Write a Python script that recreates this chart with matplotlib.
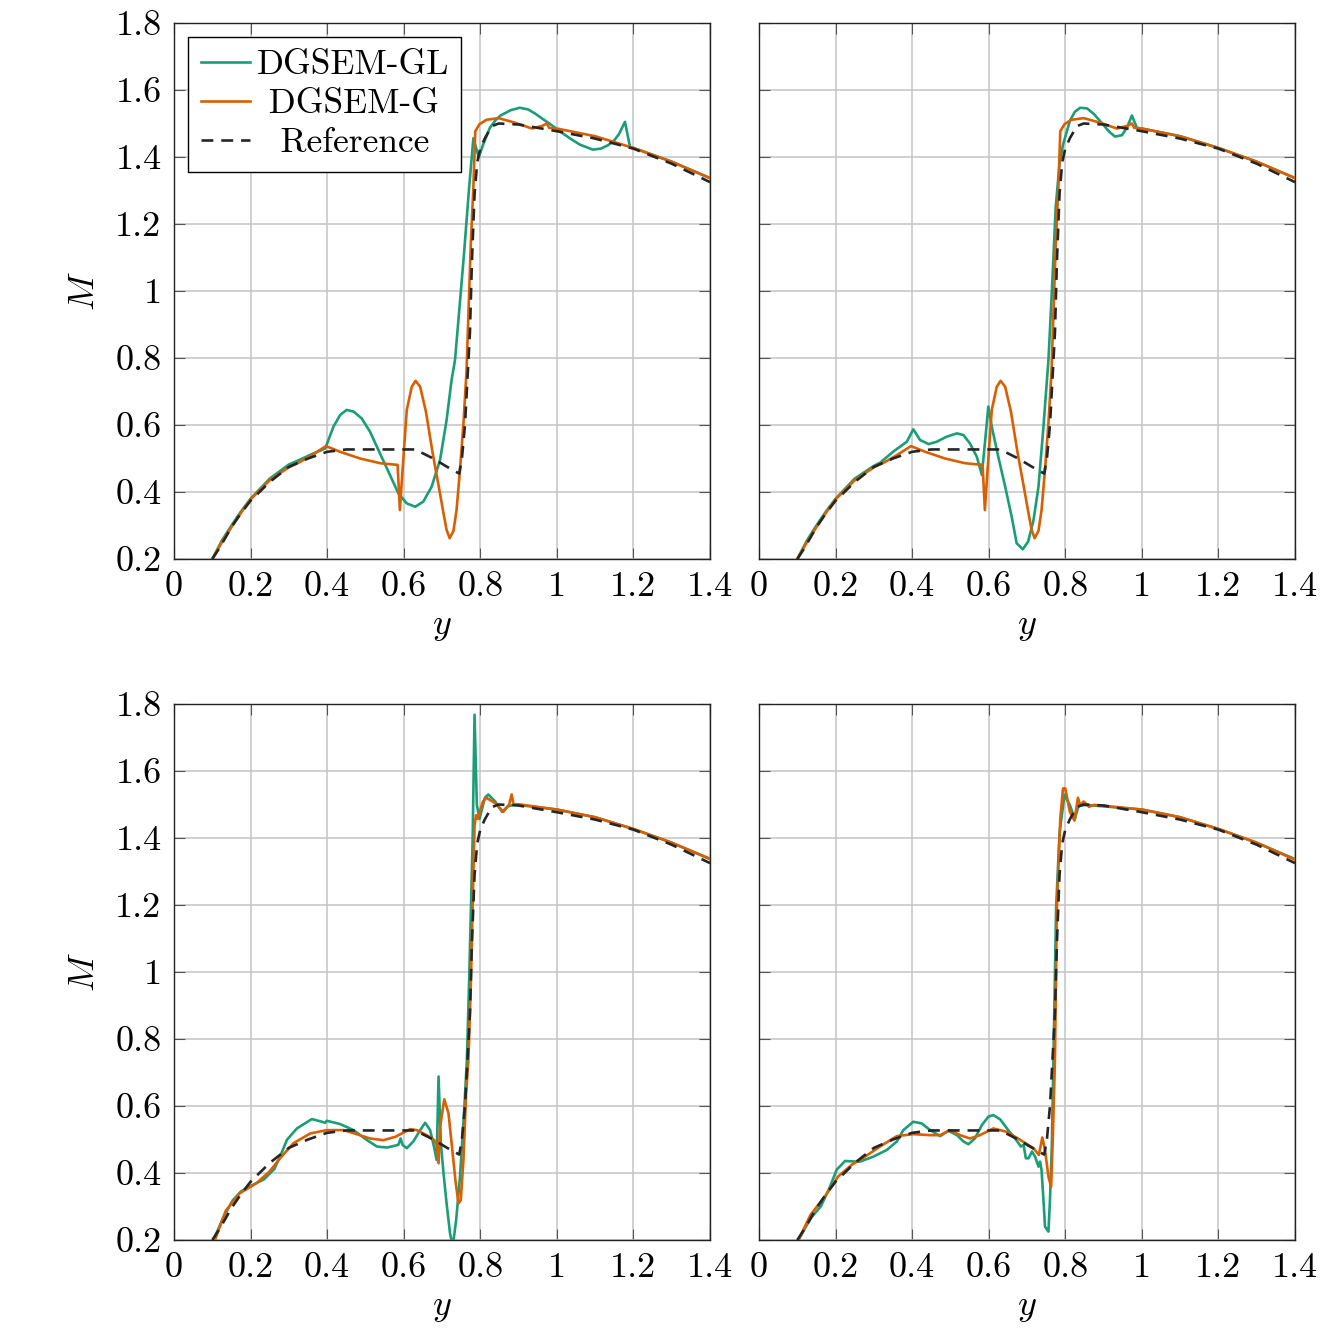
import numpy as np
import matplotlib
matplotlib.use("Agg")
import matplotlib.pyplot as plt
from matplotlib.ticker import FuncFormatter, MultipleLocator

plt.rcParams['font.family'] = 'cmr10'
plt.rcParams['mathtext.fontset'] = 'cm'
plt.rcParams['axes.formatter.use_mathtext'] = True
plt.rcParams['font.size'] = 26

GREEN = '#1b9e77'
ORANGE = '#d95f02'
REFC = '#262626'

# reference solution (same in every panel)
ref_y = [0.1, 0.12, 0.15, 0.175, 0.2, 0.25, 0.3, 0.35, 0.4, 0.45, 0.63, 0.677, 0.712,
         0.745, 0.752, 0.76, 0.769, 0.773, 0.778, 0.785, 0.792, 0.8, 0.812, 0.83, 0.848,
         0.9, 0.95, 1.0, 1.1, 1.2, 1.3, 1.4]
ref_M = [0.2, 0.235, 0.295, 0.337, 0.374, 0.43, 0.475, 0.5, 0.52, 0.527, 0.527, 0.5, 0.476,
         0.455, 0.5, 0.6, 0.79, 0.877, 1.083, 1.29, 1.384, 1.425, 1.456, 1.492, 1.5,
         1.497, 1.487, 1.477, 1.455, 1.425, 1.38, 1.325]

# top row, DGSEM-G (same in both top panels)
g_top_y = [0.1, 0.125, 0.15, 0.175, 0.2, 0.25, 0.3, 0.33, 0.36, 0.397, 0.434, 0.486,
           0.538, 0.584, 0.59, 0.597, 0.608, 0.621, 0.631, 0.643, 0.658, 0.675, 0.69,
           0.704, 0.712, 0.72, 0.73, 0.738, 0.747, 0.756, 0.764, 0.775, 0.782, 0.787,
           0.798, 0.816, 0.848, 0.889, 0.935, 0.962, 0.974, 0.98, 1.0, 1.1, 1.2, 1.3, 1.4]
g_top_M = [0.2, 0.25, 0.295, 0.338, 0.378, 0.435, 0.474, 0.49, 0.51, 0.537, 0.52, 0.5,
           0.486, 0.481, 0.346, 0.466, 0.645, 0.714, 0.732, 0.714, 0.64, 0.52, 0.426,
           0.336, 0.287, 0.262, 0.284, 0.346, 0.466, 0.605, 0.76, 1.135, 1.311, 1.477,
           1.498, 1.511, 1.516, 1.503, 1.485, 1.493, 1.5, 1.487, 1.485, 1.462, 1.427, 1.386, 1.337]

# top left, DGSEM-GL
gl1_y = [0.1, 0.125, 0.15, 0.175, 0.2, 0.25, 0.3, 0.33, 0.36, 0.395, 0.4165, 0.434, 0.451,
         0.469, 0.49, 0.512, 0.538, 0.564, 0.586, 0.608, 0.63, 0.651, 0.673, 0.695, 0.712,
         0.725, 0.734, 0.744, 0.757, 0.771, 0.782, 0.796, 0.807, 0.825, 0.84, 0.853, 0.88,
         0.903, 0.925, 0.944, 0.965, 0.989, 1.01, 1.035, 1.06, 1.094, 1.115, 1.135, 1.15,
         1.162, 1.178, 1.191, 1.2, 1.3, 1.4]
gl1_M = [0.2, 0.255, 0.3, 0.342, 0.38, 0.44, 0.482, 0.497, 0.513, 0.53, 0.595, 0.63, 0.645,
         0.64, 0.62, 0.58, 0.515, 0.451, 0.396, 0.366, 0.356, 0.371, 0.416, 0.496, 0.615,
         0.734, 0.794, 0.928, 1.104, 1.311, 1.456, 1.399, 1.436, 1.487, 1.51, 1.524, 1.54,
         1.547, 1.542, 1.529, 1.512, 1.493, 1.475, 1.455, 1.437, 1.422, 1.425, 1.436, 1.45,
         1.468, 1.505, 1.43, 1.427, 1.386, 1.337]

# top right, DGSEM-GL
gl2_y = [0.1, 0.125, 0.15, 0.175, 0.2, 0.25, 0.3, 0.317, 0.35, 0.386, 0.403, 0.421, 0.443,
         0.464, 0.49, 0.517, 0.534, 0.551, 0.569, 0.582, 0.59, 0.599, 0.608, 0.625, 0.643,
         0.66, 0.673, 0.689, 0.703, 0.717, 0.73, 0.743, 0.756, 0.765, 0.775, 0.785, 0.794,
         0.812, 0.825, 0.839, 0.857, 0.875, 0.898, 0.915, 0.93, 0.948, 0.962, 0.974, 0.987,
         1.0, 1.1, 1.2, 1.3, 1.4]
gl2_M = [0.2, 0.255, 0.3, 0.342, 0.38, 0.44, 0.478, 0.488, 0.52, 0.55, 0.587, 0.555, 0.543,
         0.55, 0.565, 0.575, 0.57, 0.545, 0.505, 0.451, 0.545, 0.655, 0.595, 0.505, 0.416,
         0.326, 0.247, 0.229, 0.252, 0.316, 0.416, 0.595, 0.794, 1.0, 1.25, 1.38, 1.436,
         1.508, 1.535, 1.547, 1.545, 1.528, 1.498, 1.475, 1.461, 1.465, 1.49, 1.524, 1.487,
         1.485, 1.462, 1.427, 1.386, 1.337]

# bottom left
gl3_y = [0.103, 0.128, 0.153, 0.175, 0.198, 0.235, 0.262, 0.277, 0.295, 0.321, 0.36, 0.386,
         0.395, 0.399, 0.434, 0.469, 0.503, 0.53, 0.556, 0.586, 0.592, 0.597, 0.608, 0.625,
         0.643, 0.656, 0.669, 0.679, 0.686, 0.691, 0.697, 0.704, 0.712, 0.721, 0.728, 0.737,
         0.747, 0.758, 0.765, 0.771, 0.78, 0.785, 0.791, 0.798, 0.812, 0.821, 0.839, 0.857,
         0.871, 0.889, 1.0, 1.1, 1.2, 1.3, 1.4]
gl3_M = [0.2, 0.265, 0.318, 0.345, 0.36, 0.381, 0.412, 0.449, 0.499, 0.533, 0.561, 0.553,
         0.55, 0.556, 0.546, 0.528, 0.499, 0.479, 0.476, 0.484, 0.503, 0.484, 0.474, 0.494,
         0.528, 0.55, 0.528, 0.479, 0.439, 0.688, 0.489, 0.399, 0.309, 0.22, 0.18, 0.26,
         0.389, 0.588, 0.737, 0.98, 1.393, 1.768, 1.499, 1.457, 1.52, 1.53, 1.509, 1.478,
         1.494, 1.5, 1.485, 1.462, 1.427, 1.386, 1.337]
g3_y = [0.107, 0.135, 0.171, 0.216, 0.25, 0.277, 0.312, 0.356, 0.399, 0.443, 0.477, 0.512,
        0.547, 0.578, 0.617, 0.634, 0.66, 0.679, 0.686, 0.691, 0.695, 0.706, 0.717, 0.726,
        0.735, 0.743, 0.749, 0.756, 0.763, 0.769, 0.775, 0.782, 0.785, 0.789, 0.793, 0.807,
        0.816, 0.839, 0.86, 0.875, 0.882, 0.887, 0.898, 1.0, 1.1, 1.2, 1.3, 1.4]
g3_M = [0.2, 0.287, 0.339, 0.37, 0.405, 0.444, 0.489, 0.518, 0.528, 0.528, 0.516, 0.503,
        0.498, 0.508, 0.531, 0.528, 0.513, 0.499, 0.484, 0.429, 0.538, 0.62, 0.578, 0.479,
        0.379, 0.309, 0.319, 0.439, 0.638, 0.737, 0.95, 1.292, 1.437, 1.468, 1.457, 1.509,
        1.52, 1.504, 1.478, 1.499, 1.53, 1.499, 1.501, 1.485, 1.462, 1.427, 1.386, 1.338]

# bottom right
gl4_y = [0.103, 0.135, 0.162, 0.185, 0.203, 0.225, 0.253, 0.264, 0.299, 0.334, 0.36, 0.377,
         0.403, 0.425, 0.447, 0.473, 0.495, 0.517, 0.534, 0.547, 0.564, 0.582, 0.599, 0.612,
         0.63, 0.651, 0.669, 0.684, 0.691, 0.697, 0.704, 0.713, 0.721, 0.73, 0.734, 0.738,
         0.743, 0.747, 0.756, 0.76, 0.765, 0.769, 0.776, 0.785, 0.798, 0.812, 0.825, 0.835,
         0.862, 1.0, 1.1, 1.2, 1.3, 1.4]
gl4_M = [0.2, 0.265, 0.301, 0.358, 0.41, 0.436, 0.434, 0.434, 0.449, 0.469, 0.494, 0.528,
         0.553, 0.548, 0.528, 0.51, 0.526, 0.513, 0.494, 0.486, 0.503, 0.543, 0.568, 0.573,
         0.56, 0.528, 0.503, 0.479, 0.484, 0.444, 0.444, 0.464, 0.449, 0.419, 0.434, 0.409,
         0.319, 0.24, 0.225, 0.319, 0.489, 0.737, 1.19, 1.416, 1.529, 1.498, 1.457, 1.498,
         1.498, 1.485, 1.462, 1.427, 1.386, 1.337]
g4_y = [0.103, 0.135, 0.171, 0.207, 0.244, 0.264, 0.316, 0.36, 0.403, 0.447, 0.473, 0.499,
        0.525, 0.551, 0.577, 0.612, 0.647, 0.682, 0.717, 0.731, 0.74, 0.747, 0.756, 0.763,
        0.767, 0.773, 0.778, 0.787, 0.794, 0.8, 0.812, 0.824, 0.833, 0.839, 0.848, 0.862,
        0.875, 1.0, 1.1, 1.2, 1.3, 1.4]
g4_M = [0.2, 0.276, 0.328, 0.39, 0.426, 0.439, 0.479, 0.51, 0.516, 0.513, 0.513, 0.528,
        0.513, 0.503, 0.513, 0.533, 0.523, 0.499, 0.474, 0.454, 0.506, 0.469, 0.389, 0.359,
        0.489, 0.737, 1.19, 1.458, 1.548, 1.548, 1.478, 1.452, 1.52, 1.498, 1.509, 1.493,
        1.499, 1.485, 1.462, 1.427, 1.386, 1.335]

panels = [
    (gl1_y, gl1_M, g_top_y, g_top_M),
    (gl2_y, gl2_M, g_top_y, g_top_M),
    (gl3_y, gl3_M, g3_y, g3_M),
    (gl4_y, gl4_M, g4_y, g4_M),
]

fig = plt.figure(figsize=(13.29, 13.33), dpi=100)
W, H = 1329.0, 1333.0
lefts = [174, 759]
tops = [23, 704]
aw, ah = 536, 536

fmt = FuncFormatter(lambda v, p: '%g' % round(v, 2))

for i, (gy, gm, oy, om) in enumerate(panels):
    r, c = divmod(i, 2)
    ax = fig.add_axes([lefts[c] / W, 1 - (tops[r] + ah) / H, aw / W, ah / H])
    ax.plot(gy, gm, color=GREEN, lw=1.9, label='DGSEM-GL', zorder=3)
    ax.plot(oy, om, color=ORANGE, lw=1.9, label=' DGSEM-G', zorder=4)
    ax.plot(ref_y, ref_M, color=REFC, lw=1.9, dashes=(4.5, 3), label='  Reference', zorder=5)
    ax.set_xlim(0, 1.4)
    ax.set_ylim(0.2, 1.8)
    ax.xaxis.set_major_locator(MultipleLocator(0.2))
    ax.yaxis.set_major_locator(MultipleLocator(0.2))
    ax.xaxis.set_major_formatter(fmt)
    ax.yaxis.set_major_formatter(fmt)
    ax.grid(True, color='#c4c4c4', lw=1.1, zorder=0)
    ax.set_axisbelow(True)
    ax.tick_params(direction='in', length=8, width=0.8, color='#555555',
                   top=True, right=True, labelsize=26, pad=9)
    for s in ax.spines.values():
        s.set_linewidth(1.0)
        s.set_color('#222222')
    ax.set_xlabel('$y$', fontsize=26, labelpad=6)
    if c == 0:
        ax.set_ylabel('$M$', fontsize=26, labelpad=10)
    else:
        ax.tick_params(labelleft=False)
    if i == 0:
        leg = ax.legend(loc='upper left', fontsize=25.5, frameon=True, fancybox=False,
                        framealpha=1, edgecolor='black', handlelength=1.4,
                        handletextpad=0.18, labelspacing=0.2, borderpad=0.35,
                        borderaxespad=0.4)
        leg.get_frame().set_linewidth(1.0)

fig.savefig('out.png', dpi=100)
